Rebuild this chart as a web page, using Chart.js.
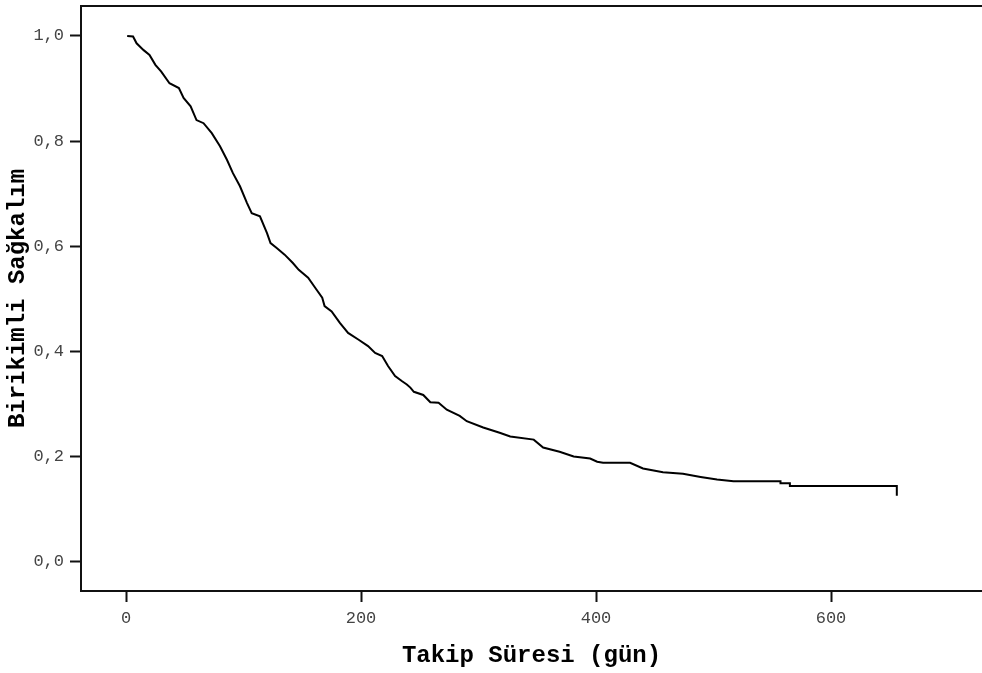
<!DOCTYPE html>
<html>
<head>
<meta charset="utf-8">
<title>Birikimli Sağkalım</title>
<script src="https://cdn.jsdelivr.net/npm/chart.js@4.4.0/dist/chart.umd.min.js"></script>
<style>
    body { margin: 0; background: #fff; }
    #myChart1 { display: block; }
</style>
</head>
<body>
<canvas id="myChart1" width="982" height="673"></canvas>
<script>
// follow-up time in days and cumulative survival
var gunler = [1, 6, 9, 15, 20, 25, 30, 37, 45, 49,
    55, 60, 66, 73, 80, 86, 91, 97, 103, 107,
    114, 120, 123, 128, 135, 142, 147, 155, 161, 167,
    169, 175, 182, 189, 198, 206, 212, 218, 223, 229,
    235, 239, 242, 245, 253, 259, 266, 273, 284, 290,
    304, 318, 327, 347, 355, 369, 381, 395, 401, 406,
    429, 440, 457, 474, 489, 503, 517, 557, 557, 565,
    565, 656, 656];
var sagkalim = [1.000, 0.999, 0.986, 0.973, 0.964, 0.945, 0.932, 0.910, 0.901, 0.882,
    0.866, 0.840, 0.834, 0.815, 0.790, 0.764, 0.739, 0.714, 0.682, 0.663,
    0.657, 0.625, 0.606, 0.597, 0.584, 0.568, 0.555, 0.540, 0.521, 0.502,
    0.486, 0.476, 0.454, 0.435, 0.422, 0.410, 0.397, 0.391, 0.372, 0.353,
    0.343, 0.337, 0.331, 0.323, 0.317, 0.303, 0.302, 0.289, 0.277, 0.267,
    0.255, 0.245, 0.238, 0.232, 0.217, 0.209, 0.200, 0.196, 0.190, 0.188,
    0.188, 0.177, 0.170, 0.167, 0.161, 0.156, 0.153, 0.153, 0.149, 0.149,
    0.144, 0.144, 0.125];

var xTicks = [0, 200, 400, 600];
var yTicks = [0, 0.2, 0.4, 0.6, 0.8, 1.0];

var punti = [];
for (var i = 0; i < gunler.length; i++) {
    punti.push({ x: gunler[i], y: sagkalim[i] });
}

var tickFont = { family: 'Liberation Mono', size: 17 };
var titleFont = { family: 'Liberation Mono', size: 24, weight: 'bold' };

var ctx = document.getElementById('myChart1').getContext('2d');
var chart = new Chart(ctx, {
    type: 'line',

    data: {
        datasets: [{
            data: punti,
            borderColor: '#000',
            borderWidth: 2,
            pointRadius: 0,
            tension: 0,
            fill: false
        }]
    },

    options: {
        responsive: false,
        animation: false,
        layout: { padding: 0 },
        plugins: {
            legend: { display: false },
            tooltip: { enabled: false }
        },
        scales: {
            x: {
                type: 'linear',
                position: 'bottom',
                min: -38.3,
                max: 728.5,
                afterFit: function(axis) {
                    axis.height = 82;
                    axis.paddingLeft = 0;
                    axis.paddingRight = 0;
                },
                afterBuildTicks: function(axis) {
                    axis.ticks = xTicks.map(function(v) { return { value: v }; });
                },
                ticks: {
                    font: tickFont,
                    color: '#444',
                    padding: 6,
                    maxRotation: 0,
                    callback: function(v) { return String(v); }
                },
                grid: {
                    drawOnChartArea: false,
                    drawTicks: true,
                    tickLength: 11,
                    tickWidth: 2,
                    tickColor: '#111'
                },
                border: { display: true, color: '#111', width: 2 },
                title: {
                    display: true,
                    text: 'Takip Süresi (gün)',
                    font: titleFont,
                    color: '#000',
                    padding: 3
                }
            },
            x2: {
                type: 'linear',
                position: 'top',
                min: -38.3,
                max: 728.5,
                afterFit: function(axis) { axis.height = 6; },
                ticks: { display: false },
                grid: { drawOnChartArea: false, drawTicks: false },
                border: { display: true, color: '#111', width: 2 }
            },
            y: {
                type: 'linear',
                min: -0.056,
                max: 1.057,
                afterFit: function(axis) {
                    axis.width = 81;
                    // keep the label overhang from pushing the plot down
                    axis.paddingTop = 0;
                    axis.paddingBottom = 0;
                },
                afterBuildTicks: function(axis) {
                    axis.ticks = yTicks.map(function(v) { return { value: v }; });
                },
                ticks: {
                    font: tickFont,
                    color: '#444',
                    padding: 6,
                    callback: function(v) { return v.toFixed(1).replace('.', ','); }
                },
                grid: {
                    drawOnChartArea: false,
                    drawTicks: true,
                    tickLength: 11,
                    tickWidth: 2,
                    tickColor: '#111'
                },
                border: { display: true, color: '#111', width: 2 },
                title: {
                    display: true,
                    text: 'Birikimli Sağkalım',
                    font: titleFont,
                    color: '#000',
                    padding: 4
                }
            }
        }
    }
});
</script>
</body>
</html>
